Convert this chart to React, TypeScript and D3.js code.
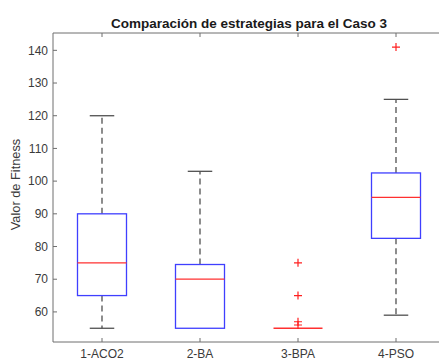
import React, { useEffect, useRef } from 'react';
import * as d3 from 'd3';

// box plot stats
const categories = ['1-ACO2', '2-BA', '3-BPA', '4-PSO'];
const whiskerLow = [55, 55, 55, 59];
const q1 = [65, 55, 55, 82.5];
const medians = [75, 70, 55, 95];
const q3 = [90, 74.5, 55, 102.5];
const whiskerHigh = [120, 103, 55, 125];
const outliers = [[], [], [75, 65, 57, 56], [141]];
const yTicks = [60, 70, 80, 90, 100, 110, 120, 130, 140];

const W = 439;
const H = 360;

const App = () => {
  const svgRef = useRef(null);

  useEffect(() => {
    const svg = d3.select(svgRef.current);
    svg.selectAll('*').remove();

    const left = 53, right = 445, top = 33, bottom = 342;
    const font = 'Liberation Sans, Arial, Helvetica, sans-serif';
    const axisColor = '#6e6e6e';
    const textColor = '#3a3a3a';

    const x = d3.scaleLinear().domain([0.5, categories.length + 0.5]).range([left, right]);
    const y = d3.scaleLinear().domain([50.8, 145.3]).range([bottom, top]);

    const boxHalf = (x(1) - x(0.5)) * 0.25 * 2; // half of box width
    const capHalf = boxHalf / 2;

    const g = svg.append('g');

    // axes frame (right side runs off the image)
    g.append('path')
      .attr('d', `M${right},${top}H${left}V${bottom}H${right}`)
      .attr('fill', 'none')
      .attr('stroke', axisColor)
      .attr('stroke-width', 1);

    // y ticks (inward) + labels
    yTicks.forEach(t => {
      g.append('line')
        .attr('x1', left).attr('x2', left + 4)
        .attr('y1', y(t)).attr('y2', y(t))
        .attr('stroke', axisColor);
      g.append('text')
        .attr('x', left - 5)
        .attr('y', y(t))
        .attr('dy', '0.35em')
        .attr('text-anchor', 'end')
        .style('font-family', font)
        .style('font-size', '12px')
        .attr('fill', textColor)
        .text(t);
    });

    // x ticks top and bottom + labels
    categories.forEach((c, i) => {
      const cx = x(i + 1);
      g.append('line')
        .attr('x1', cx).attr('x2', cx)
        .attr('y1', bottom).attr('y2', bottom - 4)
        .attr('stroke', axisColor);
      g.append('line')
        .attr('x1', cx).attr('x2', cx)
        .attr('y1', top).attr('y2', top + 4)
        .attr('stroke', axisColor);
      g.append('text')
        .attr('x', cx)
        .attr('y', 357.5)
        .attr('text-anchor', 'middle')
        .style('font-family', font)
        .style('font-size', '12px')
        .attr('fill', textColor)
        .text(c);
    });

    // boxes
    categories.forEach((c, i) => {
      const cx = x(i + 1);
      const dash = '6,4';
      const wColor = '#505050';

      // whiskers
      if (whiskerHigh[i] > q3[i]) {
        g.append('line')
          .attr('x1', cx).attr('x2', cx)
          .attr('y1', y(q3[i])).attr('y2', y(whiskerHigh[i]))
          .attr('stroke', wColor).attr('stroke-width', 1.3)
          .attr('stroke-dasharray', dash);
        g.append('line')
          .attr('x1', cx - capHalf).attr('x2', cx + capHalf)
          .attr('y1', y(whiskerHigh[i])).attr('y2', y(whiskerHigh[i]))
          .attr('stroke', wColor).attr('stroke-width', 1.3);
      }
      if (whiskerLow[i] < q1[i]) {
        g.append('line')
          .attr('x1', cx).attr('x2', cx)
          .attr('y1', y(q1[i])).attr('y2', y(whiskerLow[i]))
          .attr('stroke', wColor).attr('stroke-width', 1.3)
          .attr('stroke-dasharray', dash);
        g.append('line')
          .attr('x1', cx - capHalf).attr('x2', cx + capHalf)
          .attr('y1', y(whiskerLow[i])).attr('y2', y(whiskerLow[i]))
          .attr('stroke', wColor).attr('stroke-width', 1.3);
      }

      // box
      g.append('rect')
        .attr('x', cx - boxHalf)
        .attr('y', y(q3[i]))
        .attr('width', boxHalf * 2)
        .attr('height', Math.max(0, y(q1[i]) - y(q3[i])))
        .attr('fill', 'none')
        .attr('stroke', '#3f3fff')
        .attr('stroke-width', 1.3);

      // median
      g.append('line')
        .attr('x1', cx - boxHalf).attr('x2', cx + boxHalf)
        .attr('y1', y(medians[i])).attr('y2', y(medians[i]))
        .attr('stroke', '#ff3030').attr('stroke-width', 1.3);

      // outliers as "+"
      outliers[i].forEach(v => {
        const py = y(v);
        g.append('path')
          .attr('d', `M${cx - 4},${py}H${cx + 4}M${cx},${py - 4}V${py + 4}`)
          .attr('stroke', '#ff2020')
          .attr('stroke-width', 1.2)
          .attr('fill', 'none');
      });
    });

    // title
    svg.append('text')
      .attr('x', (left + right) / 2)
      .attr('y', 28)
      .attr('text-anchor', 'middle')
      .style('font-family', font)
      .style('font-size', '13.5px')
      .style('font-weight', 'bold')
      .attr('fill', '#1a1a1a')
      .text('Comparación de estrategias para el Caso 3');

    // y label
    svg.append('text')
      .attr('transform', `translate(20, ${(top + bottom) / 2 - 3}) rotate(-90)`)
      .attr('text-anchor', 'middle')
      .style('font-family', font)
      .style('font-size', '12.8px')
      .attr('fill', textColor)
      .text('Valor de Fitness');
  }, []);

  return (
    <div style={{ position: 'absolute', left: 0, top: 0, width: W, height: H, background: '#fff' }}>
      <svg ref={svgRef} width={W} height={H} style={{ display: 'block' }}></svg>
    </div>
  );
};

export default App;
